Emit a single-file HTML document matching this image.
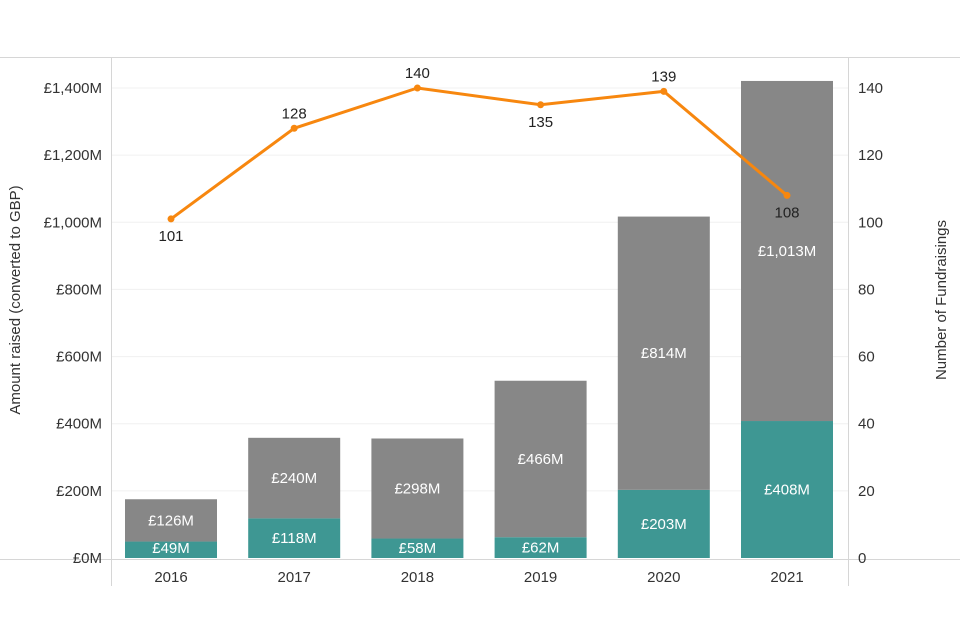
<!DOCTYPE html>
<html><head><meta charset="utf-8"><style>
body{margin:0;background:#fff}
svg{display:block;font-family:"Segoe UI","Liberation Sans",sans-serif}
</style></head><body>
<svg id="c" width="960" height="640" viewBox="0 0 960 640">
<line x1="0" y1="57.5" x2="960" y2="57.5" stroke="#d6d6d6"/>
<line x1="111.5" y1="57" x2="111.5" y2="586" stroke="#d6d6d6"/>
<line x1="848.5" y1="57" x2="848.5" y2="586" stroke="#d6d6d6"/>
<line x1="0" y1="559.5" x2="960" y2="559.5" stroke="#d6d6d6"/>
<g id="grid"></g><g id="bars"></g><g id="line"></g><g id="labels"></g>
<text x="20" y="300" transform="rotate(-90 20 300)" text-anchor="middle" font-size="15" fill="#333">Amount raised (converted to GBP)</text>
<text x="946" y="300" transform="rotate(-90 946 300)" text-anchor="middle" font-size="15" fill="#333">Number of Fundraisings</text>
</svg>
<script>
const years=["2016","2017","2018","2019","2020","2021"];
const teal=[49,118,58,62,203,408];
const gray=[126,240,298,466,814,1013];
const counts=[101,128,140,135,139,108];
const countLabelBelow=[true,false,false,true,false,true];
const leftTicks=[0,200,400,600,800,1000,1200,1400];
const rightTicks=[0,20,40,60,80,100,120,140];
const NS="http://www.w3.org/2000/svg";
const y0=558,y1=88;
const yL=v=>y0-(v/1400)*(y0-y1);
const yR=v=>y0-(v/140)*(y0-y1);
const xC=i=>171+i*123.2;
const bw=92;
function mk(t,a,p){const e=document.createElementNS(NS,t);for(const k in a)e.setAttribute(k,a[k]);document.getElementById(p).appendChild(e);return e;}
leftTicks.forEach(v=>{
  if(v>0){const g=mk('line',{x1:112,x2:848,y1:yL(v),y2:yL(v),stroke:'#f0f0f0'},'grid');
  
  }
  const t=mk('text',{x:102,y:yL(v)+5,'text-anchor':'end','font-size':15,fill:'#333'},'labels');
  t.textContent='£'+v.toLocaleString('en-US')+'M';
  
  
});
rightTicks.forEach(v=>{
  const t=mk('text',{x:858,y:yR(v)+5,'text-anchor':'start','font-size':15,fill:'#333'},'labels');
  t.textContent=v;
  
  
});
years.forEach((yr,i)=>{
  const x=xC(i)-bw/2;
  const tt=yL(teal[i]), tg=yL(teal[i]+gray[i]);
  const r1=mk('rect',{x:x,y:tt,width:bw,height:y0-tt,fill:'#3e9793'},'bars');
  
  
  const r2=mk('rect',{x:x,y:tg,width:bw,height:tt-tg,fill:'#878787'},'bars');
  
  
  const l1=mk('text',{x:xC(i),y:Math.min((tt+y0)/2+5,y0-5),'text-anchor':'middle','font-size':15,fill:'#fff'},'labels');
  l1.textContent='£'+teal[i]+'M';
  
  
  const l2=mk('text',{x:xC(i),y:(tg+tt)/2+5,'text-anchor':'middle','font-size':15,fill:'#fff'},'labels');
  l2.textContent='£'+gray[i].toLocaleString('en-US')+'M';
  
  
  const x2=mk('text',{x:xC(i),y:582,'text-anchor':'middle','font-size':15,fill:'#333'},'labels');
  x2.textContent=yr;
  
  
});
const pts=counts.map((c,i)=>xC(i)+','+yR(c)).join(' ');
const pl=mk('polyline',{points:pts,fill:'none',stroke:'#f7870f','stroke-width':3},'line');


counts.forEach((c,i)=>{
  const d=mk('circle',{cx:xC(i),cy:yR(c),r:3.5,fill:'#f7870f'},'line');
  
  
  const t=mk('text',{x:xC(i),y:countLabelBelow[i]?yR(c)+22:yR(c)-10,'text-anchor':'middle','font-size':15,fill:'#222'},'labels');
  t.textContent=c;
  
  
});
</script>
</body></html>
